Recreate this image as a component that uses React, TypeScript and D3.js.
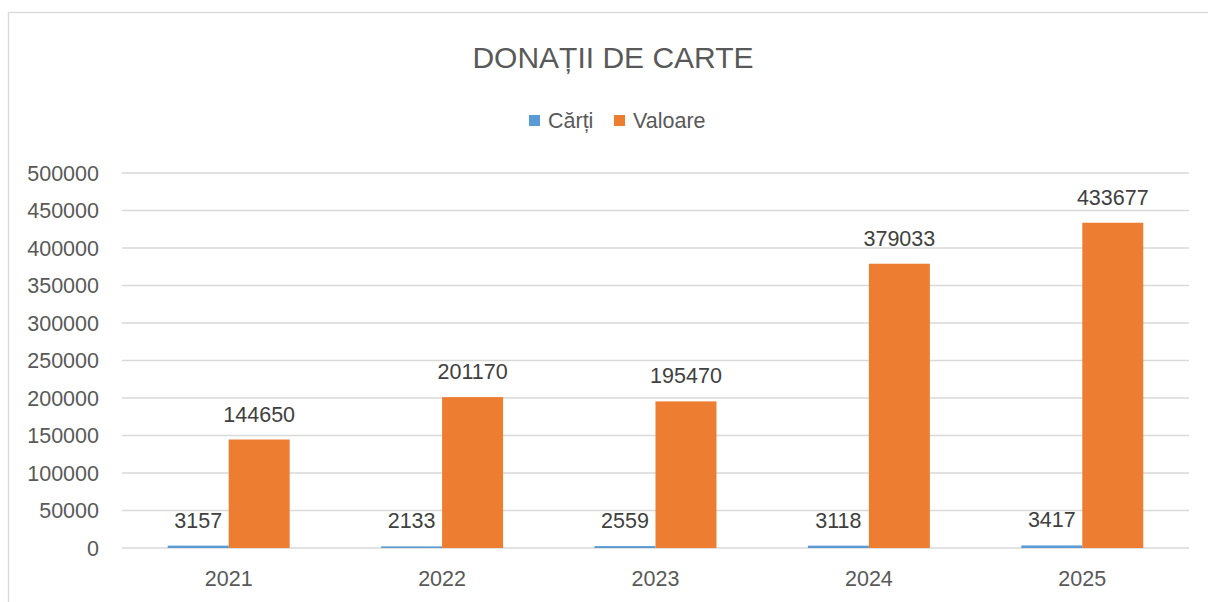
import React from "react";
import * as d3 from "d3";

const years = ["2021", "2022", "2023", "2024", "2025"];
const carti = [3157, 2133, 2559, 3118, 3417];
const valoare = [144650, 201170, 195470, 379033, 433677];
const yTicks = [0, 50000, 100000, 150000, 200000, 250000, 300000, 350000, 400000, 450000, 500000];
const seriesNames = ["Cărți", "Valoare"];
const seriesColors = ["#5B9BD5", "#ED7D31"];
const title = "DONAȚII DE CARTE";

const W = 1208;
const H = 602;
const left = 122;
const right = 1189;
const top = 173;
const bottom = 548;
const font = "'Liberation Sans', Arial, sans-serif";
const fs = 21.5;

export default function App() {
  const x = d3.scaleBand<string>().domain(years).range([left, right]).padding(0);
  const bw = x.bandwidth();
  const barW = bw / 3.5;
  const x1 = d3
    .scaleBand<string>()
    .domain(seriesNames)
    .range([bw / 2 - barW, bw / 2 + barW])
    .padding(0);
  const y = d3.scaleLinear().domain([0, 500000]).range([bottom, top]);
  const series = [carti, valoare];

  return (
    <svg
      width={W}
      height={H}
      style={{ position: "absolute", left: 0, top: 0, background: "#fff" }}
    >
      <rect x={0} y={0} width={W} height={H} fill="#fff" />
      <rect x={8.5} y={12.5} width={W + 10} height={H + 10} fill="none" stroke="#D9D9D9" strokeWidth={1.3} />
      <text x={613} y={68} textAnchor="middle" fontFamily={font} fontSize={30} fill="#595959">
        {title}
      </text>
      {/* legend */}
      {seriesNames.map((s, i) => {
        const lx = [529, 614][i];
        return (
          <g key={s}>
            <rect x={lx} y={115} width={11} height={11} fill={seriesColors[i]} />
            <text x={lx + 19} y={128} fontFamily={font} fontSize={21.5} fill="#595959">
              {s}
            </text>
          </g>
        );
      })}
      {/* gridlines */}
      {yTicks.map((t) => (
        <g key={t}>
          <line x1={left} x2={right} y1={y(t)} y2={y(t)} stroke="#D9D9D9" strokeWidth={1.3} />
          <text x={99} y={y(t) + 7.5} textAnchor="end" fontFamily={font} fontSize={fs} fill="#595959">
            {t}
          </text>
        </g>
      ))}
      {/* bars */}
      {years.map((yr, ci) => (
        <g key={yr} transform={`translate(${x(yr)},0)`}>
          {series.map((vals, si) => {
            const v = vals[ci];
            const bx = x1(seriesNames[si])!;
            return (
              <g key={si}>
                <rect x={bx} y={y(v)} width={barW} height={bottom - y(v)} fill={seriesColors[si]} />
                <text
                  x={bx + barW / 2}
                  y={y(v) - 18}
                  textAnchor="middle"
                  fontFamily={font}
                  fontSize={fs}
                  fill="#404040"
                >
                  {v}
                </text>
              </g>
            );
          })}
          <text x={bw / 2} y={586} textAnchor="middle" fontFamily={font} fontSize={fs} fill="#595959">
            {yr}
          </text>
        </g>
      ))}
    </svg>
  );
}
